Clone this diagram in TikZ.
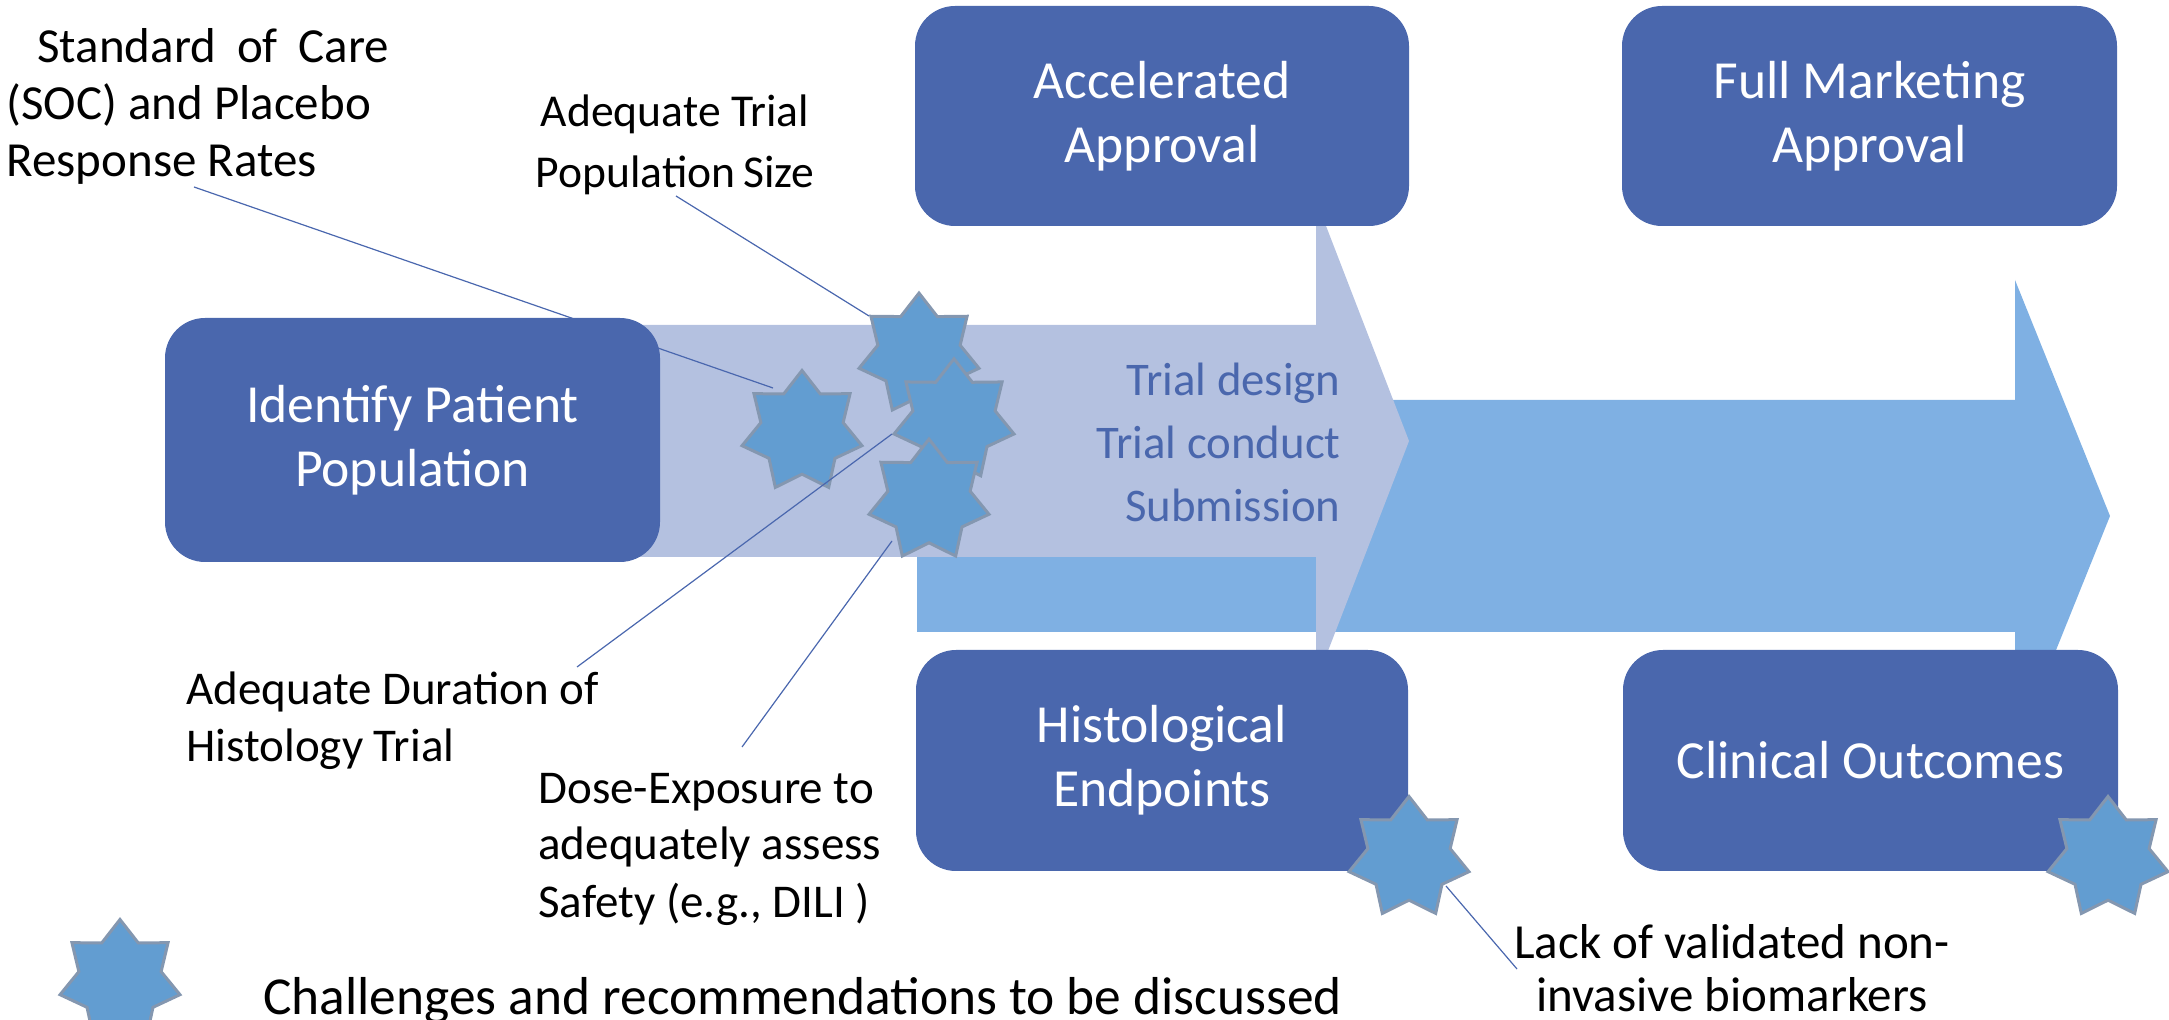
\documentclass[tikz,border=0pt]{standalone}
\usepackage{fontspec}
\setmainfont{Carlito}
\definecolor{boxblue}{RGB}{74,103,173}
\definecolor{lav}{RGB}{180,193,224}
\definecolor{arrblue}{RGB}{127,176,227}
\definecolor{starfill}{RGB}{98,157,209}
\definecolor{starline}{RGB}{132,151,176}
\definecolor{linecol}{RGB}{74,103,174}
\newcommand\sevenstar[3]{%
  \begin{scope}[shift={(#2,#3)}]
    \path[starsty] (-90:61.5) \foreach \k in {1,...,13}{ -- ({-90+\k*360/14}:{61.5-19.3*mod(\k,2)}) } -- cycle;
    \coordinate (#1) at (0,0);
  \end{scope}}
\begin{document}
\begin{tikzpicture}[x=0.5pt,y=-0.5pt,
  starsty/.style={fill=starfill,draw=starline,line width=1.5pt,line join=miter},
  procbox/.style={fill=boxblue,rounded corners=20pt,inner sep=0pt,align=center,text=white,
     font=\fontsize{26.8}{32}\selectfont},
  callout/.style={inner sep=0pt,font=\fontsize{23.5}{28.5}\selectfont},
  leader/.style={draw=linecol,line width=0.6pt}]
\useasboundingbox (0,0) rectangle (2169,1020);
% arrows
\path[fill=arrblue] (917,400) -- (2015,400) -- (2015,280) -- (2110,516) -- (2015,752) -- (2015,632) -- (917,632) -- cycle;
\path[fill=lav] (500,325) -- (1316,325) -- (1316,200) -- (1409,441) -- (1316,682) -- (1316,557) -- (500,557) -- cycle;
\node[anchor=base east,inner sep=0pt,align=right,text=boxblue,font=\fontsize{23.4}{31.5}\selectfont] (trial) at (1341,521.7) {Trial design\\Trial conduct\\Submission};
% stars on arrow
\sevenstar{sA}{802}{432}
\sevenstar{sB}{919}{354.6}
\sevenstar{sC}{954}{420.3}
\sevenstar{sD}{929}{500.6}
% callout texts
\node[callout,anchor=base west,align=left,font=\fontsize{24.5}{28.5}\selectfont] (soc) at (6,177) {\hspace*{15.5pt}\makebox[176pt][s]{Standard of Care}\\(SOC) and Placebo\\Response Rates};
\node[callout,anchor=base,align=center,font=\fontsize{22.8}{30.5}\selectfont] (pop) at (675,187.5) {Adequate Trial\\Population\,Size};
\node[callout,anchor=base west,align=left] (dur) at (186,762) {Adequate Duration of\\Histology Trial};
\node[callout,anchor=base west,align=left] (dose) at (538,917) {Dose-Exposure to\\adequately assess\\Safety (e.g., DILI )};
\node[callout,anchor=base,align=center,font=\fontsize{24.5}{26.5}\selectfont] (lack) at (1732,1011) {Lack of validated non-\\invasive biomarkers};
\node[inner sep=0pt,anchor=base west,font=\fontsize{26.7}{32}\selectfont] (legend) at (263,1014) {Challenges and recommendations to be discussed};
% leader coordinates
\coordinate (socA) at (194,187);
\coordinate (socB) at (773,388);
\coordinate (popA) at (676,196);
\coordinate (popB) at (869,316);
\coordinate (durA) at (577,667);
\coordinate (durB) at (892,434);
\coordinate (doseA) at (742,747);
\coordinate (doseB) at (892,541);
\coordinate (lackA) at (1517,969);
\coordinate (lackB) at (1446,886);
\draw[leader] (socA) -- (socB);
\draw[leader] (popA) -- (popB);
\draw[leader] (durA) -- (durB);
\draw[leader] (doseA) -- (doseB);
% boxes
\node[procbox,minimum width=247.5pt,minimum height=122pt] (ident) at (412.5,440) {Identify Patient\\Population};
\node[procbox,minimum width=247pt,minimum height=110pt] (accel) at (1162,116) {Accelerated\\Approval};
\node[procbox,minimum width=247.5pt,minimum height=110pt] (full) at (1869.5,116) {Full Marketing\\Approval};
\node[procbox,minimum width=246pt,minimum height=110.5pt] (hist) at (1162,760.5) {Histological\\Endpoints};
\node[procbox,minimum width=247.5pt,minimum height=110.5pt] (clin) at (1870.5,760.5) {Clinical Outcomes};
% stars on boxes
\sevenstar{sE}{1409}{858}
\sevenstar{sF}{2108}{858}
\sevenstar{sL}{120}{981}
\draw[leader] (lackA) -- (lackB);
\end{tikzpicture}
\end{document}
